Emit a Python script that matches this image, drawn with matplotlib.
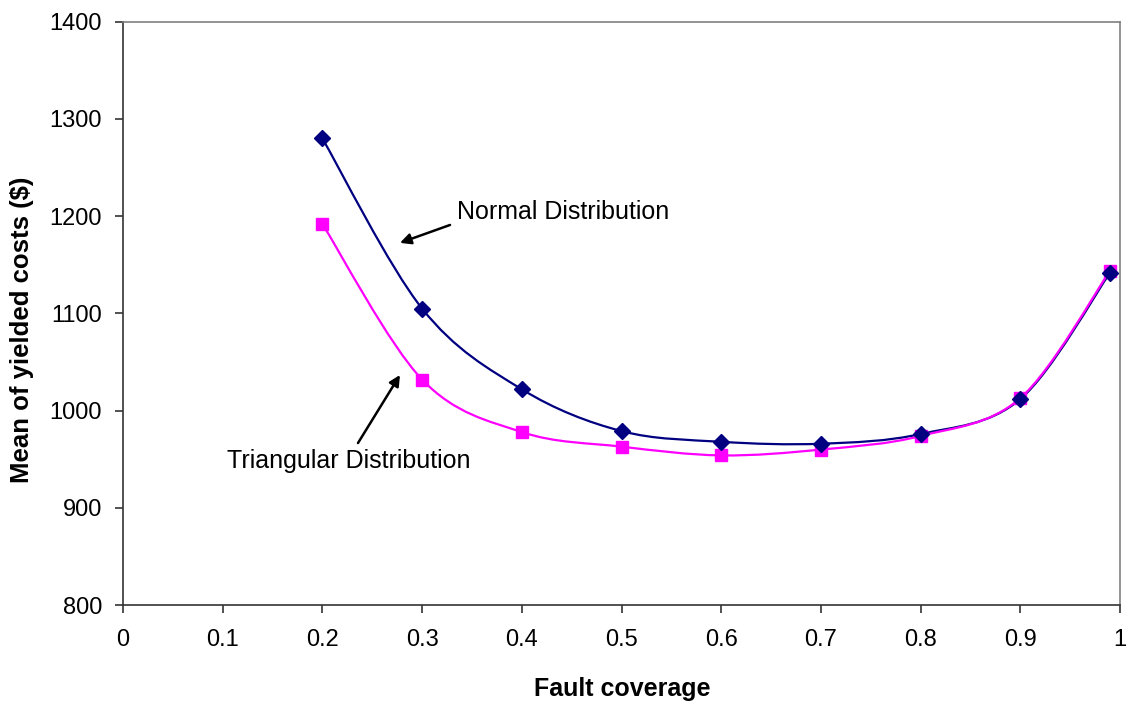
import numpy as np
import matplotlib
matplotlib.use("Agg")
import matplotlib.pyplot as plt
from matplotlib.path import Path
from matplotlib.patches import PathPatch

plt.rcParams['font.family'] = ['Liberation Sans', 'DejaVu Sans']

coverage = [0.2, 0.3, 0.4, 0.5, 0.6, 0.7, 0.8, 0.9, 0.99]
normal_cost = [1280, 1105, 1022, 979, 968, 966, 976, 1012, 1142]
triangular_cost = [1192, 1032, 978, 963, 954, 960, 974, 1013, 1144]

xticks = [0, 0.1, 0.2, 0.3, 0.4, 0.5, 0.6, 0.7, 0.8, 0.9, 1]
xticklabels = ['0', '0.1', '0.2', '0.3', '0.4', '0.5', '0.6', '0.7', '0.8', '0.9', '1']
yticks = [800, 900, 1000, 1100, 1200, 1300, 1400]


def smooth_path(xs, ys, tension=1/6):
    """Cubic Bezier path through the points (Catmull-Rom style smoothing)."""
    pts = np.column_stack([xs, ys]).astype(float)
    n = len(pts)
    verts = [pts[0]]
    codes = [Path.MOVETO]
    for i in range(n - 1):
        p0 = pts[i - 1] if i > 0 else pts[i]
        p1 = pts[i]
        p2 = pts[i + 1]
        p3 = pts[i + 2] if i + 2 < n else pts[i + 1]
        c1 = p1 + (p2 - p0) * tension
        c2 = p2 - (p3 - p1) * tension
        verts += [c1, c2, p2]
        codes += [Path.CURVE4] * 3
    return Path(verts, codes)


fig = plt.figure(figsize=(11.28, 7.02), dpi=100)
ax = fig.add_axes([0.109, 0.138, 0.884, 0.831])

ax.set_xlim(0, 1)
ax.set_ylim(800, 1400)

navy = '#000080'
magenta = '#FF00FF'

for xs, ys, color in [(coverage, normal_cost, navy), (coverage, triangular_cost, magenta)]:
    ax.add_patch(PathPatch(smooth_path(xs, ys), facecolor='none', edgecolor=color,
                           lw=1.6, zorder=2))

ax.plot(coverage, triangular_cost, ls='none', marker='s', ms=8.5, color=magenta,
        mec=magenta, zorder=3)
ax.plot(coverage, normal_cost, ls='none', marker='D', ms=8.5, color=navy,
        mec=navy, zorder=3)

ax.set_xticks(xticks)
ax.set_xticklabels(xticklabels)
ax.set_yticks(yticks)
ax.tick_params(axis='both', labelsize=17, length=6, width=1.2, color='#333333',
               direction='out')
ax.tick_params(axis='x', pad=11)
ax.tick_params(axis='y', pad=9)

for side in ['left', 'bottom']:
    ax.spines[side].set_color('#333333')
    ax.spines[side].set_linewidth(1.2)
for side in ['top', 'right']:
    ax.spines[side].set_color('#808080')
    ax.spines[side].set_linewidth(1.2)

ax.set_xlabel('Fault coverage', fontsize=18, fontweight='bold', va='center')
ax.xaxis.set_label_coords(0.5005, -0.143)
ax.set_ylabel('Mean of yielded costs ($)', fontsize=18.5, fontweight='bold', va='center')
ax.yaxis.set_label_coords(-0.101, 0.472)

# Text labels for the two curves
ax.text(0.335, 1197.3, 'Normal Distribution', fontsize=18, ha='left', va='baseline')
ax.text(0.1043, 941, 'Triangular Distribution', fontsize=18, ha='left', va='baseline')

arrow_style = dict(arrowstyle='-|>', color='black', lw=1.8, mutation_scale=16,
                   shrinkA=0, shrinkB=0)
ax.annotate('', xy=(0.2778, 1172.6), xytext=(0.328, 1191), arrowprops=arrow_style)
ax.annotate('', xy=(0.2778, 1036.7), xytext=(0.2357, 966.7), arrowprops=arrow_style)

fig.savefig('out.png', dpi=100, facecolor='white')
